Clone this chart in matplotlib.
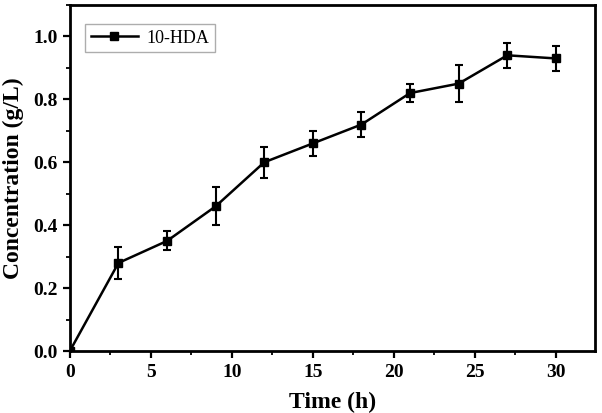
import matplotlib
matplotlib.use("Agg")
import matplotlib.pyplot as plt
from matplotlib.lines import Line2D
from matplotlib.ticker import MultipleLocator

plt.rcParams.update({"font.family": "Liberation Serif", "font.weight": "bold"})

time_h = [0, 3, 6, 9, 12, 15, 18, 21, 24, 27, 30]
conc = [0.0, 0.28, 0.35, 0.46, 0.60, 0.66, 0.72, 0.82, 0.85, 0.94, 0.93]
err = [0.0, 0.05, 0.03, 0.06, 0.05, 0.04, 0.04, 0.03, 0.06, 0.04, 0.04]

fig = plt.figure(figsize=(6.02, 4.13), dpi=100)
ax = fig.add_axes([0.116, 0.150, 0.872, 0.838])

ax.errorbar(time_h, conc, yerr=err, color="black", lw=1.8, marker="s", ms=6,
            capsize=3, capthick=1.5, elinewidth=1.5)

ax.set_xlim(0, 32.4)
ax.set_ylim(0, 1.1)
ax.xaxis.set_major_locator(MultipleLocator(5))
ax.xaxis.set_minor_locator(MultipleLocator(2.5))
ax.yaxis.set_major_locator(MultipleLocator(0.2))
ax.yaxis.set_minor_locator(MultipleLocator(0.1))
ax.yaxis.set_major_formatter(lambda v, p: f"{v:.1f}")
ax.tick_params(which="major", direction="out", length=5, width=1.6,
               labelsize=14, pad=4)
ax.tick_params(which="minor", direction="out", length=3, width=1.3)
for s in ax.spines.values():
    s.set_linewidth(2.0)

ax.set_xlabel("Time (h)", fontsize=17, fontweight="bold", labelpad=8)
ax.set_ylabel("Concentration (g/L)", fontsize=17, fontweight="bold", labelpad=6)

handle = Line2D([], [], color="black", lw=1.8, marker="s", ms=6)
leg = ax.legend([handle], ["10-HDA"], loc="upper left", fontsize=13,
                frameon=True, fancybox=False, edgecolor="#999999",
                borderpad=0.3, handlelength=2.6, handletextpad=0.5,
                bbox_to_anchor=(0.012, 0.97))
leg.get_frame().set_linewidth(1.0)
for t in leg.get_texts():
    t.set_fontweight("normal")

fig.savefig("out.png", dpi=100, facecolor="white")
